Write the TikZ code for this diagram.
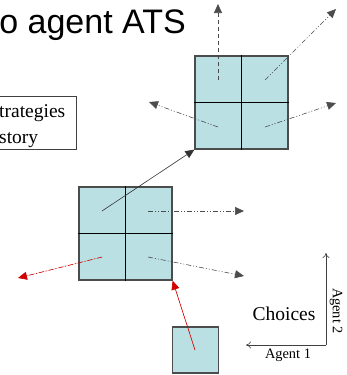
\documentclass[tikz,border=0pt]{standalone}
\usepackage{fontspec}
\setmainfont{Liberation Serif}
\newfontfamily\arialf{Liberation Sans}
\usetikzlibrary{arrows.meta}
\definecolor{cellfill}{HTML}{BBE0E3}
\definecolor{redarr}{HTML}{D00000}
\tikzset{
  sqbox/.style={draw=black!70, line width=1.3pt, fill=cellfill},
  gridln/.style={draw=black, line width=0.9pt},
  tipb/.style={-{Triangle[length=9pt,width=8pt]}},
  dasharr/.style={tipb, draw=black!70, line width=0.6pt, dash pattern=on 5pt off 2pt on 1pt off 2pt on 1pt off 2pt},
  longdash/.style={tipb, draw=black!70, line width=0.6pt, dash pattern=on 4pt off 3pt},
  redarr/.style={-{Triangle[length=9pt,width=8pt]}, draw=redarr, fill=redarr, line width=0.6pt},
  axisln/.style={draw=black!75, line width=0.6pt, -{To[length=5pt,width=7pt]}},
}
\begin{document}
\begin{tikzpicture}[x=1pt,y=-1pt]
\useasboundingbox (0,0) rectangle (347,375);
% title
\node[anchor=base east, inner sep=0pt, font=\arialf\fontsize{34}{40}\selectfont] (title) at (186,33) {o agent ATS};
% strategies box
\begin{scope}
\clip (0,0) rectangle (347,375);
\draw[draw=black!75, line width=0.8pt] (-10,96) rectangle (76,149);
\node[anchor=base west, inner sep=0pt, font=\fontsize{19.5}{24}\selectfont] (strat1) at (-1,117) {trategies};
\node[anchor=base west, inner sep=0pt, font=\fontsize{19.5}{24}\selectfont] (strat2) at (-1,143) {story};
\end{scope}
% top square
\node[sqbox, minimum size=93pt, inner sep=0pt] (top) at (241.5,102.5) {};
\draw[gridln] (top.north) -- (top.south);
\draw[gridln] (top.west) -- (top.east);
% middle square
\node[sqbox, minimum size=93pt, inner sep=0pt] (mid) at (125.5,233.5) {};
\draw[gridln] (mid.north) -- (mid.south);
\draw[gridln] (mid.west) -- (mid.east);
% bottom square
\node[sqbox, minimum size=46pt, inner sep=0pt] (bot) at (195.5,350) {};
% cell centres
\coordinate (tTL) at (218,80);
\coordinate (tTR) at (265,80);
\coordinate (tBL) at (218,127);
\coordinate (tBR) at (265,127);
\coordinate (mTL) at (102,211);
\coordinate (mTR) at (148,211);
\coordinate (mBL) at (102,257);
\coordinate (mBR) at (148,257);
\coordinate (bC) at (195,350);
% arrow ends
\coordinate (e1) at (218,4);
\coordinate (e2) at (336,9);
\coordinate (e3) at (149,102);
\coordinate (e4) at (336,103);
\coordinate (e5) at (244,211);
\coordinate (e6) at (244,276);
\coordinate (e7) at (18,278);
% arrows from top square
\draw[longdash] (tTL) -- (e1);
\draw[dasharr] (tTR) -- (e2);
\draw[dasharr] (tBL) -- (e3);
\draw[dasharr] (tBR) -- (e4);
% arrow into top square
\draw[tipb, draw=black!80, line width=0.6pt] (mTL) -- (top.south west);
% arrows from middle square
\draw[dasharr] (mTR) -- (e5);
\draw[dasharr] (mBR) -- (e6);
\draw[redarr, dash pattern=on 5pt off 2pt on 1pt off 2pt] (mBL) -- (e7);
% red arrow from bottom square
\draw[redarr] (bC) -- (mid.south east);
% choices axes
\coordinate (ax0) at (326,345);
\coordinate (axU) at (326,253);
\coordinate (axL) at (246,345);
\draw[axisln] (ax0) -- (axU);
\draw[axisln] (ax0) -- (axL);
\node[font=\fontsize{19.5}{24}\selectfont, inner sep=0pt] (choices) at (284,314) {Choices};
\node[font=\fontsize{14.4}{17}\selectfont, inner sep=0pt] (ag1) at (288,355) {Agent 1};
\node[font=\fontsize{14.4}{17}\selectfont, inner sep=0pt, rotate=-90] (ag2) at (336,311) {Agent 2};
\end{tikzpicture}
\end{document}
